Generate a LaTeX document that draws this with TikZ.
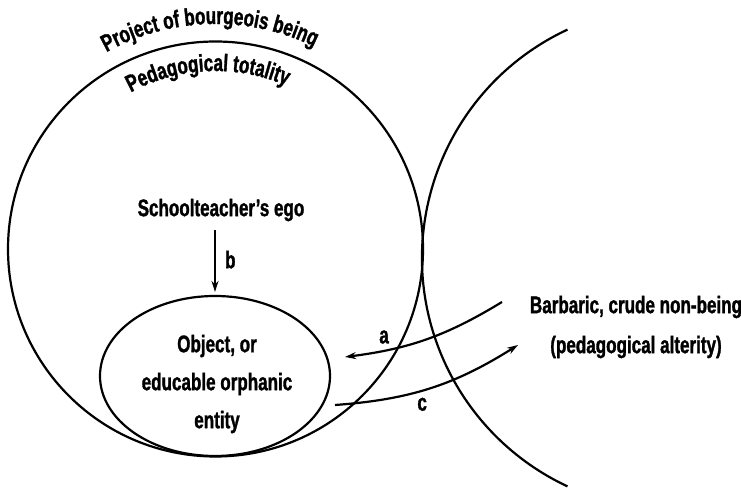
\documentclass[tikz,border=0pt]{standalone}
\usepackage{fontspec}
\newfontfamily\cond[FakeStretch=0.71, FakeBold=1.3]{Liberation Sans Bold}
\usetikzlibrary{shapes.geometric, decorations.text, arrows.meta}

\begin{document}
\begin{tikzpicture}[x=1pt, y=1pt, >={Stealth[length=11pt,width=7pt]}, line width=2.2pt,
  lbl/.style={font=\cond\fontsize{24}{28}\selectfont, inner sep=2pt},
  arctext/.style={decorate, decoration={text along path, text align=center,
    text={|\cond\fontsize{24}{28}\selectfont|#1}}}]
  \useasboundingbox (0,0) rectangle (741,489);

  % the two spheres, touching at one point
  \draw (215.5,240) circle[radius=207.5];
  \draw ([shift={(115:252)}]674,231) arc[start angle=115, end angle=245, radius=252];

  % curved titles round the top of the totality
  \path[arctext={Project of bourgeois being}]
       ([shift={(122:225)}]215.5,240) arc[start angle=122, end angle=61, radius=225];
  \path[arctext={Pedagogical totality}]
       ([shift={(122:178)}]215.5,240) arc[start angle=122, end angle=63, radius=178];

  % inside the totality
  \node[lbl] (ego) at (221,279) {Schoolteacher’s ego};
  \node[draw, ellipse, minimum width=230, minimum height=160] (obj) at (215,113) {};
  \node[lbl, align=center, font=\cond\fontsize{24}{38}\selectfont] (objtext) at (217,105)
       {Object, or\\educable orphanic\\entity};
  \draw[->, shorten <=6pt, shorten >=3pt] (obj.north |- ego.south) -- (obj.north)
       node[lbl, midway, right=7pt] {b};

  % outside: the alterity
  \node[lbl, align=center, font=\cond\fontsize{24}{40}\selectfont] (alt) at (636,162)
       {Barbaric, crude non-being\\(pedagogical alterity)};

  % crossings a and c
  \coordinate (a0) at (502,187);
  \coordinate (a1) at (345,132);
  \coordinate (c0) at (335,84);
  \coordinate (c1) at (518,144);
  \draw[->] (a0) to[bend left=12] node[lbl, pos=0.78, above=4pt] {a} (a1);
  \draw[->] (c0) to[bend right=14] node[lbl, pos=0.45, below=4pt] {c} (c1);
\end{tikzpicture}
\end{document}
